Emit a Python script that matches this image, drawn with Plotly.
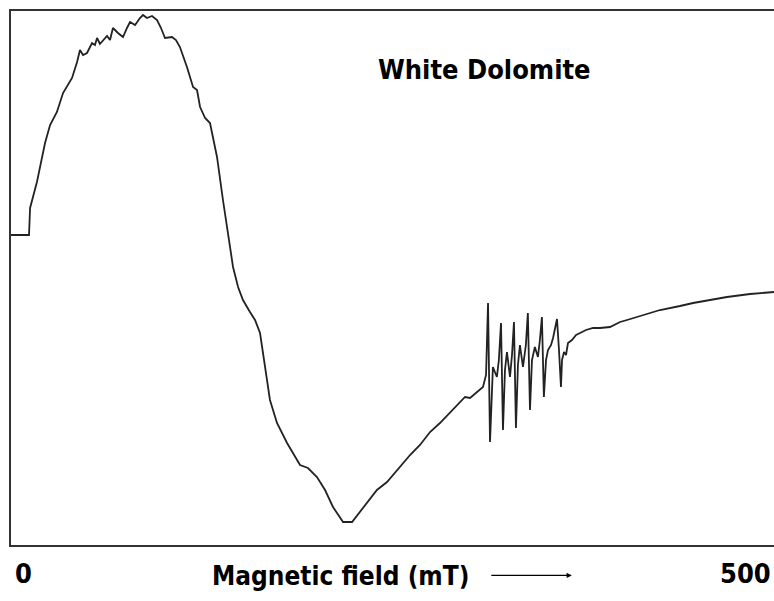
import plotly.graph_objects as go

# Magnetic field (mT) and EPR signal intensity (arbitrary units, baseline = 0)
field_mT = [0, 11.8, 12.5, 17.0, 22.3, 25.6, 30.1, 34.1, 40.0, 43.3, 45.2, 47.2, 49.8, 53.1, 55.0,
            56.4, 58.3, 60.3, 62.9, 64.9, 66.8, 70.1, 73.4, 76.0, 78.0, 81.3, 84.5, 86.5, 89.1,
            92.4, 95.7, 98.3, 100.9, 105.5, 108.1, 110.7, 115.3, 119.3, 121.9, 123.9, 127.2,
            130.4, 135.0, 138.9, 143.5, 145.5, 148.8, 152.0, 156.6, 159.9, 163.2, 166.4, 169.7,
            174.3, 180.9, 189.4, 194.6, 200.5, 205.8, 211.0, 217.6, 223.5, 228.7, 233.3, 239.8,
            246.4, 254.9, 261.5, 268.0, 274.6, 281.1, 289.6, 297.5, 300.8, 305.4, 309.3, 311.3,
            312.6, 313.9, 315.2, 315.8, 317.1, 318.4, 319.7, 321.1, 322.4, 323.7, 325.0, 327.0,
            328.3, 329.6, 330.9, 332.2, 333.5, 335.5, 337.4, 338.7, 340.1, 341.4, 343.3, 345.3,
            346.6, 347.9, 349.2, 350.6, 351.9, 353.9, 355.2, 357.8, 359.1, 360.4, 361.1, 362.4,
            363.7, 365.0, 367.6, 370.3, 372.9, 376.8, 381.4, 386.0, 392.5, 399.1, 403.7, 412.2,
            425.3, 438.4, 447.0, 458.1, 469.2, 484.3, 500]
intensity = [0, 0, 27, 53, 92, 110, 123, 142, 157, 173, 185, 180, 182, 192, 190,
             197, 191, 195, 199, 195, 207, 202, 198, 207, 213, 210, 217, 220, 217,
             219, 215, 207, 197, 198, 195, 188, 168, 148, 145, 128, 117,
             112, 78, 35, -12, -32, -52, -65, -77, -85, -98, -132, -165,
             -188, -208, -230, -233, -242, -255, -272, -287, -287, -277, -268, -255,
             -247, -232, -220, -210, -197, -188, -175, -162, -163, -157, -152, -140,
             -68, -207, -145, -132, -137, -142, -125, -88, -195, -135, -117, -142,
             -120, -87, -193, -130, -110, -132, -110, -78, -175, -125, -112, -122,
             -105, -82, -162, -125, -115, -110, -103, -84, -115, -152, -125, -117,
             -120, -108, -105, -100, -98, -95, -93, -93, -92, -87, -85, -81,
             -75, -71, -68, -65, -62, -59, -57]

title_text = "White Dolomite"
axis_label = "Magnetic field (mT)"
tick_start = "0"
tick_end = "500"

FONT = "DejaVu Sans Condensed, Liberation Sans Narrow, Arial Narrow, sans-serif"

fig = go.Figure()
fig.add_trace(go.Scatter(x=field_mT, y=intensity, mode="lines",
                         line=dict(color="#222222", width=1.8), hoverinfo="skip",
                         showlegend=False))

fig.update_layout(
    width=774, height=601,
    margin=dict(l=11, r=0, t=11, b=56),
    paper_bgcolor="white", plot_bgcolor="white",
    xaxis=dict(range=[0, 500], showgrid=False, zeroline=False, showticklabels=False,
               ticks="", showline=True, mirror=True, linecolor="#333333", linewidth=2),
    yaxis=dict(range=[-310, 224], showgrid=False, zeroline=False, showticklabels=False,
               ticks="", showline=True, mirror=False, linecolor="#333333", linewidth=2),
    font=dict(family=FONT, color="black"),
)

ann_font = dict(family=FONT, size=27, color="black", weight="bold")
label_font = dict(family=FONT, size=26, color="black", weight="bold")
fig.add_annotation(text=title_text, xref="paper", yref="paper", x=0.621, y=0.891,
                   showarrow=False, font=ann_font, xanchor="center", yanchor="middle")
fig.add_annotation(text=tick_start, xref="paper", yref="paper", x=0.003, y=-0.054,
                   showarrow=False, font=ann_font, xanchor="left", yanchor="middle")
fig.add_annotation(text=axis_label, xref="paper", yref="paper", x=0.4325, y=-0.058,
                   showarrow=False, font=label_font, xanchor="center", yanchor="middle")
fig.add_annotation(text=tick_end, xref="paper", yref="paper", x=0.999, y=-0.054,
                   showarrow=False, font=ann_font, xanchor="right", yanchor="middle")
# arrow pointing toward increasing field
fig.add_annotation(text="", xref="paper", yref="paper", x=0.735, y=-0.057,
                   ax=-82, ay=0, axref="pixel", ayref="pixel",
                   showarrow=True, arrowhead=2, arrowsize=0.8, arrowwidth=1.3,
                   arrowcolor="black")

fig.write_html("out.html")
